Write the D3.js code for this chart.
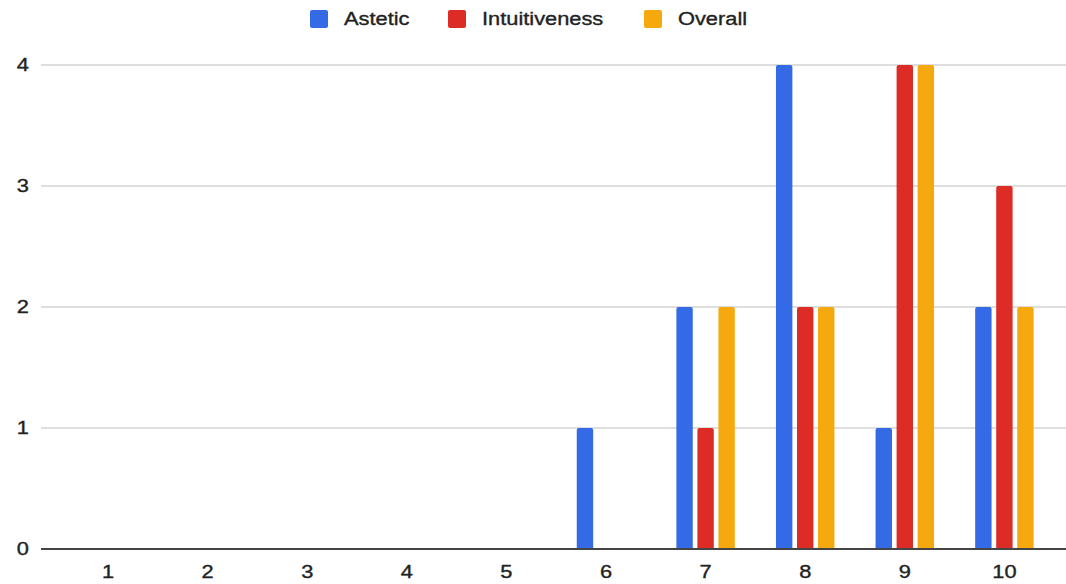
<!DOCTYPE html>
<html>
<head>
<meta charset="utf-8">
<script src="https://cdn.jsdelivr.net/npm/d3@7"></script>
<style>
  html, body { margin: 0; padding: 0; background: #fff; }
  svg { display: block; }
  text { font-family: "Liberation Sans", Arial, sans-serif; fill: #222; stroke: #222; stroke-width: 0.35px; }
</style>
</head>
<body>
<svg id="chart" width="1066" height="584"></svg>
<script>
const categories = ["1","2","3","4","5","6","7","8","9","10"];
const seriesNames = ["Astetic","Intuitiveness","Overall"];
const astetic       = [0,0,0,0,0,1,2,4,1,2];
const intuitiveness = [0,0,0,0,0,0,1,2,4,3];
const overall       = [0,0,0,0,0,0,2,2,4,2];
const yTicks = [0,1,2,3,4];
const colors = ["#356ae6","#dd2c26","#f5a90e"];

const seriesValues = [astetic, intuitiveness, overall];
const svg = d3.select("#chart");
const plotLeft = 41, plotRight = 1066;
const yTop = 65, yBottom = 549;
const fs = 18.5, sx = 1.18;

const x = d3.scaleBand().domain(categories).range([58.2, 1054.2])
  .paddingInner(0.413).paddingOuter(0.2065);
const xs = d3.scaleBand().domain(seriesNames).range([0, x.bandwidth()]).paddingInner(0.22);
const y = d3.scaleLinear().domain([0, 4]).range([yBottom, yTop]);

// gridlines
svg.append("g").selectAll("line").data(yTicks.filter(t => t !== 0)).join("line")
  .attr("x1", plotLeft).attr("x2", plotRight)
  .attr("y1", d => y(d)).attr("y2", d => y(d))
  .attr("stroke", "#d3d3d3").attr("stroke-width", 1.5);

// y labels
svg.append("g").selectAll("text").data(yTicks).join("text")
  .attr("transform", d => `translate(29,${y(d)}) scale(${sx},1)`)
  .attr("text-anchor", "end").attr("dy", "0.35em")
  .style("font-size", fs + "px")
  .text(d => d);

// bars
const data = [];
categories.forEach((c, i) => seriesNames.forEach((s, j) => {
  if (seriesValues[j][i] > 0) data.push({c, s, v: seriesValues[j][i], j});
}));
svg.append("g").selectAll("path").data(data).join("path")
  .attr("fill", d => colors[d.j])
  .attr("d", d => {
    const x0 = x(d.c) + xs(d.s), w = xs.bandwidth();
    const yt = y(d.v), yb = y(0), r = 2;
    return `M${x0},${yb}V${yt + r}Q${x0},${yt} ${x0 + r},${yt}H${x0 + w - r}Q${x0 + w},${yt} ${x0 + w},${yt + r}V${yb}Z`;
  });

// baseline
svg.append("line").attr("x1", plotLeft).attr("x2", plotRight)
  .attr("y1", y(0)).attr("y2", y(0))
  .attr("stroke", "#444").attr("stroke-width", 2);

// x labels
svg.append("g").selectAll("text").data(categories).join("text")
  .attr("transform", d => `translate(${x(d) + x.bandwidth() / 2},578) scale(${sx},1)`)
  .attr("text-anchor", "middle")
  .style("font-size", fs + "px")
  .text(d => d);

// legend
const legendX = [310, 448, 644];
const lg = svg.append("g").selectAll("g").data(seriesNames).join("g")
  .attr("transform", (d, i) => `translate(${legendX[i]},0)`);
lg.append("rect").attr("x", 0).attr("y", 10).attr("width", 18).attr("height", 18)
  .attr("rx", 2).attr("fill", (d, i) => colors[i]);
lg.append("text")
  .attr("transform", `translate(34,19) scale(${sx},1)`)
  .attr("dy", "0.35em")
  .style("font-size", fs + "px")
  .text(d => d);
</script>
</body>
</html>
